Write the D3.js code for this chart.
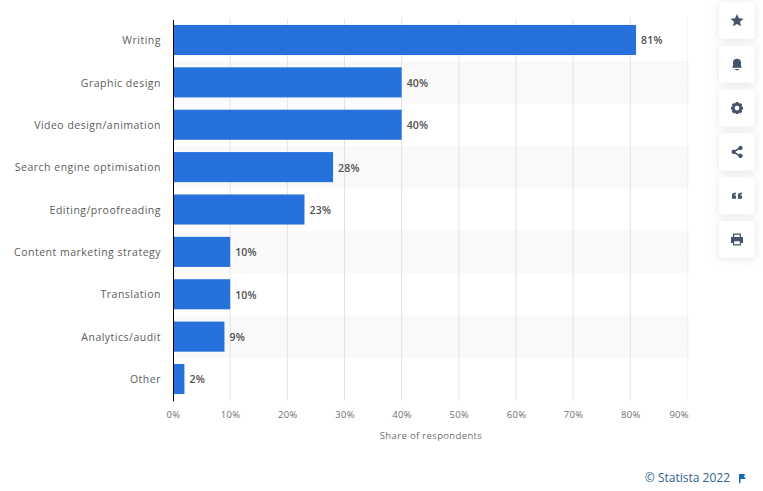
<!DOCTYPE html>
<html>
<head>
<meta charset="utf-8">
<script src="https://cdn.jsdelivr.net/npm/d3@7"></script>
<style>
html, body { margin: 0; padding: 0; background: #fff; }
svg { display: block; font-family: "Open Sans", sans-serif; }
</style>
</head>
<body>
<svg id="chart"></svg>
<script>
// Chart data
const categories = ["Writing", "Graphic design", "Video design/animation", "Search engine optimisation",
    "Editing/proofreading", "Content marketing strategy", "Translation", "Analytics/audit", "Other"];
const shares = [81, 40, 40, 28, 23, 10, 10, 9, 2];
const ticks = [0, 10, 20, 30, 40, 50, 60, 70, 80, 90];
const axisTitle = "Share of respondents";
const creditText = "© Statista 2022";
const iconNames = ["star", "bell", "gear", "share", "quote", "print"];

const width = 763;
const height = 491;

const svg = d3.select("#chart").attr("width", width).attr("height", height);

const x = d3.scaleLinear().domain([0, 90]).range([173, 687.5]);
const yBand = d3.scaleBand().domain(categories).range([18.8, 400.2]);
const y = d3.scaleBand().domain(categories).range([18.8, 400.2]).paddingInner(0.29).paddingOuter(0.145);

// Alternating row backgrounds
svg.append("g")
    .selectAll("rect")
    .data(categories.filter((d, i) => i % 2 === 1))
    .join("rect")
    .attr("x", x(0))
    .attr("y", d => yBand(d))
    .attr("width", 689 - x(0))
    .attr("height", yBand.bandwidth())
    .attr("fill", "#f9f9f9");

// Vertical grid lines, the last one is dotted
svg.append("g")
    .selectAll("line")
    .data(ticks.slice(1))
    .join("line")
    .attr("x1", d => x(d))
    .attr("x2", d => x(d))
    .attr("y1", 18.8)
    .attr("y2", 400.2)
    .attr("stroke", "#e2e2e2")
    .attr("stroke-width", 1)
    .attr("stroke-dasharray", d => d === 90 ? "1,2" : null);

// Bars
svg.append("g")
    .selectAll("rect")
    .data(categories)
    .join("rect")
    .attr("x", x(0))
    .attr("y", d => y(d))
    .attr("width", (d, i) => x(shares[i]) - x(0))
    .attr("height", y.bandwidth())
    .attr("fill", "#2771dc");

// Value labels
svg.append("g")
    .selectAll("text")
    .data(categories)
    .join("text")
    .attr("x", (d, i) => x(shares[i]) + 5)
    .attr("y", d => y(d) + y.bandwidth() / 2 + 0.8)
    .attr("dy", "0.35em")
    .attr("font-size", 10.5)
    .attr("font-weight", 600)
    .attr("letter-spacing", 0.2)
    .attr("fill", "#505050")
    .text((d, i) => shares[i] + "%");

// Category axis
const yAxis = svg.append("g")
    .attr("transform", `translate(${x(0)},0.8)`)
    .call(d3.axisLeft(yBand).tickSize(0).tickPadding(12));
yAxis.select(".domain").attr("stroke", "#000").attr("stroke-width", 1);
yAxis.selectAll("text")
    .attr("font-family", "'Open Sans', sans-serif")
    .attr("font-size", 10.5)
    .attr("letter-spacing", 0.5)
    .attr("fill", "#5c5c5c");

// Value axis, the last label stays inside the plot
const xAxis = svg.append("g")
    .attr("transform", "translate(0,400)")
    .call(d3.axisBottom(x).tickValues(ticks).tickFormat(d => d + "%").tickSize(0).tickPadding(11));
xAxis.select(".domain").remove();
xAxis.selectAll("text")
    .attr("font-family", "'Open Sans', sans-serif")
    .attr("font-size", 9.5)
    .attr("letter-spacing", 0.3)
    .attr("fill", "#707070");
xAxis.selectAll("text")
    .filter(d => d === 90)
    .attr("text-anchor", "end")
    .attr("dx", 1);

svg.append("text")
    .attr("x", 431)
    .attr("y", 439)
    .attr("text-anchor", "middle")
    .attr("font-size", 9.5)
    .attr("letter-spacing", 0.35)
    .attr("fill", "#707070")
    .text(axisTitle);

// Credit
svg.append("text")
    .attr("x", 730)
    .attr("y", 482)
    .attr("text-anchor", "end")
    .attr("font-size", 12)
    .attr("fill", "#2f6290")
    .text(creditText);
svg.append("path")
    .attr("transform", "translate(739,474)")
    .attr("d", "M0,0H6L5,2.5L7,5H1.5V9H0Z")
    .attr("fill", "#1769b8");

// Side buttons
const shadow = svg.append("defs").append("filter")
    .attr("id", "btnShadow")
    .attr("x", "-40%").attr("y", "-40%").attr("width", "180%").attr("height", "180%");
shadow.append("feDropShadow")
    .attr("dx", 0).attr("dy", 1).attr("stdDeviation", 4)
    .attr("flood-color", "#8a94a6").attr("flood-opacity", 0.25);

const iconPaths = {
    star: "M0,-6.5L1.9,-2.2L6.5,-1.8L3,1.2L4,5.8L0,3.4L-4,5.8L-3,1.2L-6.5,-1.8L-1.9,-2.2Z",
    bell: "M-5,3.5C-3.5,2 -4,-1 -4,-2C-4,-4.5 -2,-5.5 0,-5.5C2,-5.5 4,-4.5 4,-2C4,-1 3.5,2 5,3.5ZM-2,4.6H2C2,6.4 -2,6.4 -2,4.6Z",
    gear: "M-1.4,-6H1.4L1.8,-4.3L3.5,-5.2L5.4,-3.2L4.4,-1.6L6,-1.2V1.4L4.4,1.8L5.3,3.4L3.4,5.3L1.8,4.4L1.4,6H-1.4L-1.8,4.4L-3.4,5.3L-5.3,3.4L-4.4,1.8L-6,1.4V-1.2L-4.4,-1.6L-5.4,-3.2L-3.5,-5.2L-1.8,-4.3ZM0,-2.4A2.4,2.4 0 1 0 0,2.4A2.4,2.4 0 1 0 0,-2.4Z",
    share: "M3.4,-6.2A2.2,2.2 0 1 1 3.4,-1.8A2.2,2.2 0 0 1 2,-2.3L-1.3,-0.5V0.5L2,2.3A2.2,2.2 0 1 1 1.3,3.8L-2,1.8A2.2,2.2 0 1 1 -2,-1.8L1.3,-3.8A2.2,2.2 0 0 1 3.4,-6.2Z",
    quote: "M-5,3V-0.5C-5,-2.5 -3.8,-3 -1,-3V-1.5C-2,-1.5 -2.6,-1.3 -2.6,-0.3H-1V3ZM1,3V-0.5C1,-2.5 2.2,-3 5,-3V-1.5C4,-1.5 3.4,-1.3 3.4,-0.3H5V3Z",
    print: "M-4,-6H4V-2.5H6V3.5H4V6H-4V3.5H-6V-2.5H-4ZM-2.8,-4.8V-2.5H2.8V-4.8ZM-2.8,1.8V4.8H2.8V1.8Z"
};

const buttons = svg.append("g")
    .selectAll("g")
    .data(iconNames)
    .join("g")
    .attr("transform", (d, i) => `translate(737,${20.5 + i * 43.8})`);

buttons.append("rect")
    .attr("x", -18)
    .attr("y", -18.5)
    .attr("width", 36)
    .attr("height", 37)
    .attr("rx", 4)
    .attr("fill", "#fff")
    .attr("filter", "url(#btnShadow)");

buttons.append("path")
    .attr("d", d => iconPaths[d])
    .attr("fill", "#44546a")
    .attr("fill-rule", "evenodd");
</script>
</body>
</html>
